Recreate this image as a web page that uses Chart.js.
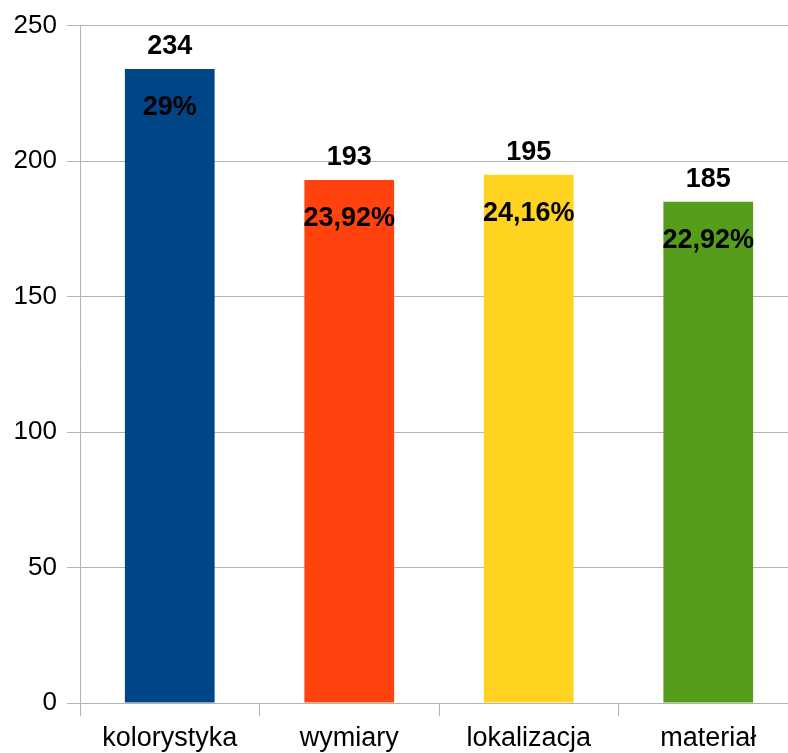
<!DOCTYPE html>
<html>
<head>
<meta charset="utf-8">
<script src="https://cdn.jsdelivr.net/npm/chart.js@4/dist/chart.umd.min.js"></script>
<style>
    html, body { margin: 0; padding: 0; background: #fff; overflow: hidden; }
    #wrap { width: 798px; height: 753px; }
</style>
</head>
<body>
<div id="wrap"><canvas id="reportChart" width="798" height="753"></canvas></div>
<script>
// Chart data
const categories = ['kolorystyka', 'wymiary', 'lokalizacja', 'materiał'];
const counts = [234, 193, 195, 185];
const shares = ['29%', '23,92%', '24,16%', '22,92%'];
const barColors = ['#004586', '#ff420e', '#ffd320', '#579d1c'];
const yTicks = [0, 50, 100, 150, 200, 250];

const FONT = '"Liberation Sans", Arial, sans-serif';

// Draw count above each bar and share inside it
const barLabels = {
    id: 'barLabels',
    afterDatasetsDraw(chart) {
        const ctx = chart.ctx;
        const meta = chart.getDatasetMeta(0);
        ctx.save();
        ctx.fillStyle = '#000';
        ctx.textAlign = 'center';
        ctx.textBaseline = 'alphabetic';
        ctx.font = 'bold 27px ' + FONT;
        meta.data.forEach((bar, i) => {
            ctx.fillText(String(counts[i]), bar.x, bar.y - 15);
            ctx.fillText(shares[i], bar.x, bar.y + 46);
        });
        ctx.restore();
    }
};

const ctx = document.getElementById('reportChart').getContext('2d');

new Chart(ctx, {
    type: 'bar',
    data: {
        labels: categories,
        datasets: [{
            label: 'Liczba',
            data: counts,
            backgroundColor: barColors,
            borderWidth: 0,
            barPercentage: 0.5,
            categoryPercentage: 1
        }]
    },
    options: {
        responsive: false,
        animation: false,
        layout: { padding: { top: 25, left: 0, right: 0, bottom: 0 } },
        plugins: {
            legend: { display: false },
            tooltip: { enabled: false }
        },
        scales: {
            x: {
                offset: true,
                grid: {
                    offset: true,
                    drawOnChartArea: false,
                    drawTicks: true,
                    tickLength: 13,
                    color: '#b3b3b3'
                },
                border: { display: false },
                ticks: {
                    color: '#000',
                    padding: 6,
                    font: { family: FONT, size: 27 }
                },
                afterFit(scale) { scale.height = 50; }
            },
            y: {
                min: 0,
                max: 250,
                afterBuildTicks(scale) {
                    scale.ticks = yTicks.map(v => ({ value: v }));
                },
                grid: {
                    color: '#b3b3b3',
                    tickLength: 13
                },
                border: { display: true, color: '#b3b3b3' },
                ticks: {
                    color: '#000',
                    padding: 10,
                    font: { family: FONT, size: 26 }
                },
                afterFit(scale) { scale.width = 80; }
            }
        }
    },
    plugins: [barLabels]
});
</script>
</body>
</html>
